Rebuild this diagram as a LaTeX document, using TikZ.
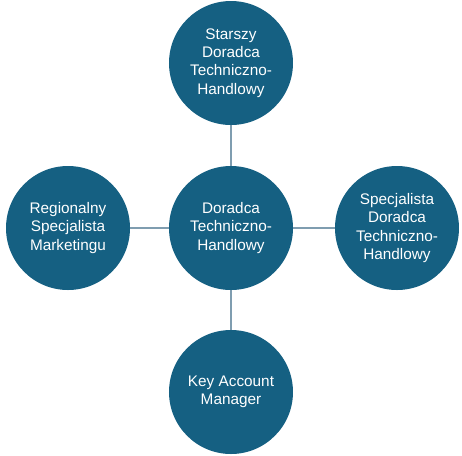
\documentclass[tikz,border=0pt]{standalone}
\usepackage{fontspec}
\setmainfont{Liberation Sans}
\usepackage{tikz}
\definecolor{rolefill}{HTML}{156082}
\definecolor{linkgray}{HTML}{7F9DB0}

\begin{document}
\begin{tikzpicture}[x=0.75pt, y=-0.75pt, every node/.style={font=\fontsize{11.5}{13.8}\selectfont}, role/.style={circle, fill=rolefill, text=white, minimum size=93pt, inner sep=0pt, align=center}, link/.style={draw=linkgray, line width=1.1pt}]
	\useasboundingbox (0,0) rectangle (462,455);
	\node[role] (mid) at (231,228) {Doradca\\Techniczno-\\Handlowy};
	\node[role] (top) at (231,63) {Starszy\\Doradca\\Techniczno-\\Handlowy};
	\node[role] (lft) at (68,228) {Regionalny\\Specjalista\\Marketingu};
	\node[role] (rgt) at (397,228) {Specjalista\\Doradca\\Techniczno-\\Handlowy};
	\node[role] (bot) at (231,392) {Key Account\\Manager};
	\draw[link] (mid) -- (top); \draw[link] (mid) -- (lft);
	\draw[link] (mid) -- (rgt); \draw[link] (mid) -- (bot);
\end{tikzpicture}
\end{document}
